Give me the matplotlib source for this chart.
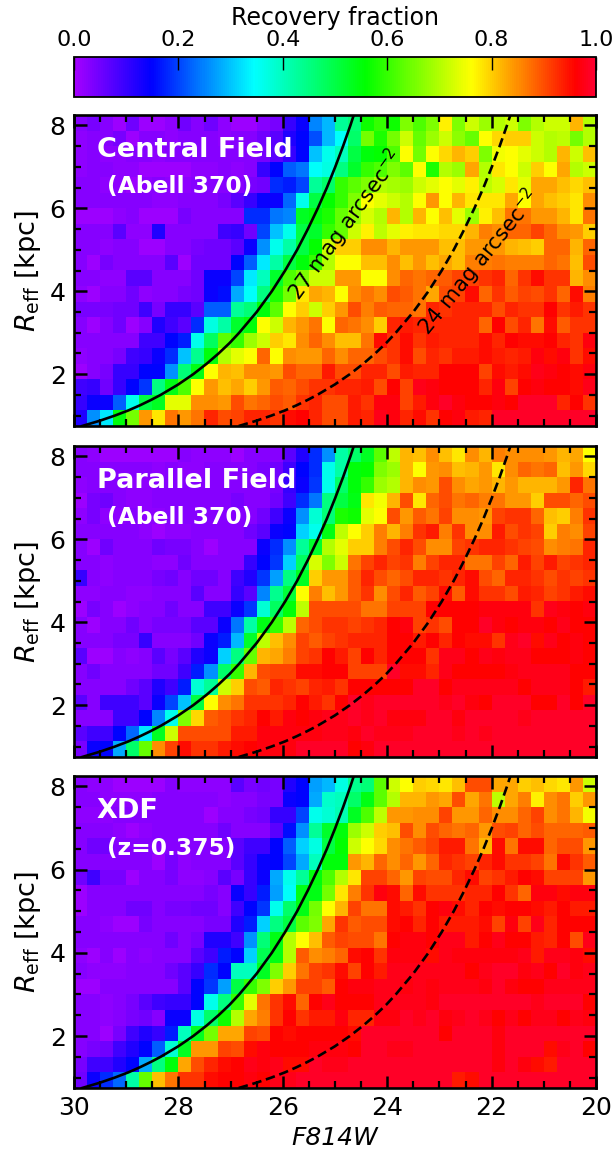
import numpy as np
import matplotlib
matplotlib.use('Agg')
import matplotlib.pyplot as plt
from matplotlib.colors import LinearSegmentedColormap
from matplotlib.ticker import MultipleLocator

# recovery fraction in percent: top row first, F814W 30 -> 20
central_rf = [
    [3,4,3,1,5,1,1,2,5,3,5,2,1,1,3,4,10,14,25,29,43,46,57,60,57,66,62,66,77,66,72,68,70,72,66,70,72,72,82,70],
    [2,3,3,4,1,3,3,2,3,3,3,2,3,3,5,7,12,15,21,29,35,47,65,58,65,72,64,68,72,67,64,76,79,80,80,72,70,71,65,70],
    [2,3,2,2,3,3,2,3,3,3,3,3,3,3,4,7,10,15,30,36,40,50,55,56,62,76,65,76,79,82,80,66,75,76,74,72,70,82,72,81],
    [2,3,3,2,2,1,1,1,1,2,2,3,2,3,10,15,22,24,35,37,45,52,60,62,66,63,76,58,70,68,83,70,78,76,72,80,76,83,70,72],
    [3,3,2,2,1,2,3,2,2,3,3,3,3,4,5,18,17,20,43,47,60,63,66,70,69,68,72,74,76,74,77,71,73,78,74,83,83,81,79,81],
    [3,3,3,3,3,3,2,2,3,3,3,4,7,10,14,14,23,36,50,56,60,66,76,74,72,70,76,84,76,82,78,78,78,83,76,83,81,80,78,85],
    [1,1,1,2,3,1,1,1,4,3,3,3,3,18,18,24,25,53,55,58,64,68,73,70,82,70,82,76,81,74,68,77,81,87,87,84,84,82,78,87],
    [3,3,3,7,2,2,12,3,3,3,3,9,10,5,20,30,36,50,52,60,64,72,77,71,74,77,78,78,79,79,82,86,85,88,88,91,88,85,84,80],
    [3,3,2,3,3,1,1,3,3,4,5,5,7,14,26,36,42,50,56,72,80,80,85,85,82,84,84,84,81,81,84,84,84,82,81,80,88,88,82,88],
    [3,1,4,3,3,3,3,7,1,5,5,5,15,22,33,42,50,55,60,70,76,76,81,81,85,81,84,81,83,81,86,86,87,86,86,86,88,87,81,90],
    [3,3,2,2,7,7,3,3,3,5,14,14,20,33,40,52,62,66,72,72,84,84,76,76,85,88,87,88,89,91,91,92,93,88,92,95,92,92,82,85],
    [2,1,3,3,5,2,3,3,4,5,14,16,28,35,45,58,65,78,83,82,76,85,87,85,90,89,87,83,90,91,95,88,92,89,91,90,92,88,95,86],
    [4,4,4,5,5,9,4,10,10,7,22,22,43,46,55,63,76,80,72,80,84,90,86,89,88,88,87,93,92,93,93,93,90,93,92,92,96,92,94,92],
    [3,1,3,5,1,3,12,9,7,18,37,42,52,55,76,72,82,84,87,76,88,87,85,80,93,94,93,93,93,93,93,88,96,90,93,87,95,89,92,92],
    [3,3,3,3,3,9,9,15,17,36,48,63,60,68,72,80,78,85,88,85,81,81,87,95,92,95,92,94,93,93,93,95,93,96,95,95,96,93,92,97],
    [2,3,3,4,9,10,14,18,30,44,55,70,74,76,88,76,85,84,84,88,85,88,88,90,92,95,90,93,92,94,94,95,94,93,94,97,95,97,92,95],
    [1,3,4,10,10,15,15,26,46,54,76,82,81,85,85,84,90,88,88,94,90,90,93,93,90,94,93,93,96,96,96,91,95,94,95,98,97,96,95,97],
    [9,10,5,10,15,19,45,54,62,76,84,81,83,80,84,89,88,90,92,92,93,93,94,90,96,91,98,97,96,96,96,93,97,91,96,97,96,96,95,98],
    [10,14,14,22,36,50,53,74,74,85,85,84,90,87,88,90,89,92,93,90,90,94,92,97,97,91,94,97,99,97,96,96,97,96,99,99,99,93,96,92],
    [12,26,33,55,65,84,78,87,84,87,93,90,91,93,93,92,95,96,93,90,90,94,93,98,97,93,95,92,96,97,94,93,99,99,99,99,99,99,99,99],
]
parallel_rf = [
    [3,2,1,1,1,1,1,1,3,2,2,2,1,3,3,3,7,12,18,26,42,47,53,63,71,82,81,85,81,78,85,82,86,85,85,85,84,82,83,76],
    [3,3,3,3,3,3,2,3,2,2,3,3,3,3,4,5,9,15,18,36,42,55,56,66,68,82,76,84,85,81,82,84,78,85,88,87,88,81,84,79],
    [2,3,3,3,2,2,3,3,3,3,3,3,3,3,3,4,10,14,19,36,47,55,60,68,70,82,85,84,90,85,83,84,82,84,82,82,82,84,93,87],
    [1,4,5,3,2,2,3,3,3,3,3,3,4,3,3,5,9,18,24,45,50,54,78,75,82,90,78,88,90,87,88,86,87,84,84,80,90,90,88,90],
    [2,4,2,2,3,2,2,3,3,3,3,3,3,3,5,9,14,26,38,46,58,57,74,76,90,84,89,87,91,85,85,84,91,92,92,88,81,80,86,92],
    [3,3,3,3,3,2,1,2,2,3,3,3,3,5,7,14,15,31,36,54,71,76,80,86,82,86,92,94,86,92,85,85,94,90,92,91,80,86,85,91],
    [3,1,5,3,3,3,5,4,4,3,1,3,3,3,14,18,26,43,52,70,74,80,80,86,90,93,90,85,85,91,92,93,93,92,91,90,85,86,87,93],
    [3,3,2,3,3,3,2,2,5,3,3,3,3,10,15,19,31,48,73,66,72,87,91,93,91,92,86,91,93,93,87,87,91,88,94,91,94,91,92,93],
    [10,3,2,3,3,3,4,5,3,5,5,3,9,12,19,27,45,53,80,84,84,89,93,90,88,90,93,93,92,93,95,90,88,93,93,92,90,92,91,92],
    [2,2,3,3,2,2,3,3,3,7,3,3,10,7,25,44,51,76,86,81,84,89,92,85,90,93,89,91,95,89,95,92,92,90,94,93,91,92,94,95],
    [1,4,3,1,2,3,3,5,3,3,9,9,14,19,38,48,55,71,90,90,90,90,87,87,91,91,91,96,96,96,96,97,97,97,97,92,98,97,96,97],
    [3,1,3,3,5,3,4,4,4,7,7,14,24,42,54,60,71,88,90,92,92,91,92,93,96,97,91,92,90,96,96,99,97,96,97,97,96,98,96,96],
    [3,3,3,4,4,10,3,3,3,5,14,17,29,52,71,81,85,91,89,91,92,93,93,93,96,96,94,96,93,96,95,95,92,98,99,95,98,96,97,96],
    [7,1,1,3,2,3,7,4,7,12,14,31,45,64,82,83,86,91,92,96,94,91,96,93,96,96,96,92,98,98,96,98,97,98,98,96,96,96,97,96],
    [3,5,3,3,3,3,5,5,9,17,26,47,60,82,90,91,91,95,95,96,96,91,91,91,99,95,95,93,98,96,96,96,96,97,98,98,98,98,96,96],
    [3,3,3,3,5,7,12,9,17,38,43,72,80,90,89,93,92,91,93,94,92,96,96,96,96,96,99,99,96,98,98,98,98,98,96,98,98,98,96,94],
    [7,3,9,9,9,7,14,20,30,50,76,85,87,92,92,92,93,96,94,92,96,99,98,99,99,99,99,99,98,99,97,96,99,99,99,96,96,99,96,99],
    [3,3,3,9,9,15,25,36,66,79,89,90,92,93,96,94,97,96,97,98,98,99,98,99,97,97,97,99,99,97,99,99,99,99,98,99,99,99,99,99],
    [7,9,9,15,23,33,53,72,90,90,90,90,94,94,97,97,97,97,97,98,98,97,99,98,98,98,99,99,99,98,99,98,99,99,99,99,99,99,99,99],
    [4,14,15,28,47,64,85,91,95,92,92,94,95,96,97,97,97,99,99,99,99,96,97,99,99,99,99,99,99,99,99,99,99,99,99,99,99,99,99,99],
]
xdf_rf = [
    [3,2,2,1,1,1,1,3,2,2,2,2,7,4,5,4,12,15,27,29,37,44,46,63,72,76,80,79,78,81,90,90,83,83,80,81,79,78,84,72],
    [3,3,2,2,2,2,3,3,3,3,3,2,3,3,4,4,14,15,28,39,40,47,54,63,70,82,82,84,83,90,83,87,71,83,86,77,85,87,80,84],
    [2,2,2,3,3,3,3,3,3,3,1,3,3,4,5,10,10,20,36,38,41,53,62,71,84,84,85,85,91,84,84,88,85,85,88,91,85,87,82,75],
    [3,3,3,2,1,2,3,3,3,3,3,5,3,3,3,7,16,26,43,52,55,68,72,80,81,90,85,90,88,87,88,84,90,91,88,90,88,88,88,89],
    [3,5,5,3,3,3,3,3,3,3,3,3,7,9,9,15,22,31,37,50,56,72,76,79,85,87,89,91,94,94,87,82,95,87,95,95,88,90,90,84],
    [3,3,3,3,3,3,1,4,2,3,3,3,7,10,14,15,20,28,40,55,55,84,82,88,85,88,84,88,93,92,91,93,95,92,92,91,87,95,92,89],
    [5,9,4,4,1,3,3,4,2,2,3,7,4,10,14,28,36,43,55,62,70,78,91,91,88,84,91,90,90,93,95,91,92,94,96,95,91,91,91,84],
    [1,3,3,3,3,3,3,3,3,3,4,3,14,10,17,27,35,54,54,65,78,86,92,97,95,88,95,92,92,92,93,93,96,92,88,97,97,95,97,97],
    [1,3,3,3,5,5,3,4,4,5,5,3,9,15,19,36,47,54,65,76,82,91,87,87,95,94,92,96,97,95,93,96,95,96,96,95,94,96,94,94],
    [3,3,2,1,1,4,3,3,3,3,4,4,12,17,31,45,50,63,66,83,92,89,90,90,95,96,93,96,94,94,94,95,91,97,91,98,93,96,96,96],
    [3,3,3,3,3,3,3,5,3,4,12,12,9,26,46,54,70,76,81,89,91,90,90,87,96,97,97,96,98,98,94,96,98,96,96,94,93,96,90,98],
    [2,1,3,1,3,2,3,3,3,7,9,17,15,31,49,54,70,89,85,86,88,95,96,92,97,97,97,95,98,97,97,97,97,97,98,94,98,98,97,95],
    [3,2,2,2,3,3,3,5,7,10,18,15,40,40,53,66,80,87,91,92,95,91,96,94,98,98,98,98,98,98,96,98,99,99,97,98,96,99,97,98],
    [1,1,3,3,3,3,3,3,7,15,19,27,50,60,66,80,84,91,91,89,96,97,97,98,98,97,98,97,98,98,98,97,99,97,96,96,98,98,98,98],
    [3,3,2,3,4,7,9,10,10,15,36,45,60,74,87,92,95,88,96,98,96,96,96,98,98,98,98,97,99,99,99,99,99,99,99,98,99,99,99,96],
    [3,3,2,3,4,5,3,14,14,37,47,57,70,83,86,92,96,92,94,94,97,93,93,97,97,99,98,99,97,98,99,98,96,98,96,98,98,96,98,97],
    [3,3,1,4,9,12,10,17,40,53,65,83,83,91,90,96,95,96,96,96,96,95,99,99,99,99,99,99,96,99,99,99,97,99,99,99,99,99,99,99],
    [3,4,5,9,12,15,22,38,53,84,84,91,90,95,97,96,96,96,97,97,97,96,99,99,98,98,99,99,99,99,99,99,97,99,99,99,95,98,99,96],
    [4,9,9,12,15,28,45,55,83,90,93,95,96,98,97,98,95,95,99,98,98,99,99,99,99,99,99,99,99,99,99,99,97,99,97,95,94,99,99,99],
    [5,14,18,23,42,64,81,87,92,92,95,96,96,97,96,98,98,99,99,99,99,99,99,99,99,99,99,99,99,94,95,99,99,99,99,99,99,99,99,99],
]

# constant surface brightness lines
reff_curve = [0.75, 0.875, 1, 1.125, 1.25, 1.375, 1.5, 1.75, 2, 2.25, 2.5, 2.75, 3, 3.5, 4, 4.5, 5, 5.5, 6, 6.5, 7, 7.5, 8, 8.25]
mag_27 = [29.845, 29.51, 29.22, 28.96, 28.735, 28.53, 28.34, 28.005, 27.715, 27.46, 27.23, 27.02, 26.835, 26.5, 26.21, 25.955, 25.725, 25.52, 25.33, 25.155, 24.995, 24.845, 24.705, 24.64]
mag_24 = [26.845, 26.51, 26.22, 25.96, 25.735, 25.53, 25.34, 25.005, 24.715, 24.46, 24.23, 24.02, 23.835, 23.5, 23.21, 22.955, 22.725, 22.52, 22.33, 22.155, 21.995, 21.845, 21.705, 21.64]

panel_names = ['Central Field', 'Parallel Field', 'XDF']
panel_subs = ['(Abell 370)', '(Abell 370)', '(z=0.375)']
panel_data = [central_rf, parallel_rf, xdf_rf]
cbar_ticks = [0.0, 0.2, 0.4, 0.6, 0.8, 1.0]

cmap = LinearSegmentedColormap.from_list('recovery', [
    (0.0, '#a500ff'), (0.147, '#0000ff'), (0.345, '#00ffff'), (0.558, '#00ff00'),
    (0.762, '#ffff00'), (0.962, '#ff0000'), (1.0, '#ff0032')])

W, H = 616.0, 1154.0
def px_axes(x0, y0, x1, y1):
    return fig.add_axes([x0 / W, 1 - y1 / H, (x1 - x0) / W, (y1 - y0) / H])

fig = plt.figure(figsize=(6.16, 11.54), dpi=100)
boxes = [(74, 115, 596, 426), (74, 446, 596, 757), (74, 776, 596, 1088)]

for i, box in enumerate(boxes):
    ax = px_axes(*box)
    im = ax.imshow(np.array(panel_data[i]) / 100.0, extent=[30, 20, 0.75, 8.25], cmap=cmap,
                   vmin=0, vmax=1, aspect='auto', interpolation='nearest')
    ax.plot(mag_27, reff_curve, color='k', lw=1.9)
    ax.plot(mag_24, reff_curve, color='k', lw=1.9, ls=(0, (3.6, 1.8)))
    ax.set_xlim(30, 20)
    ax.set_ylim(0.75, 8.25)
    ax.xaxis.set_major_locator(MultipleLocator(2))
    ax.xaxis.set_minor_locator(MultipleLocator(0.5))
    ax.yaxis.set_major_locator(MultipleLocator(2))
    ax.yaxis.set_minor_locator(MultipleLocator(0.5))
    ax.tick_params(which='major', direction='in', top=True, right=True, length=9, width=1.8, labelsize=18, pad=6)
    ax.tick_params(which='minor', direction='in', top=True, right=True, length=5, width=1.6)
    for s in ax.spines.values():
        s.set_linewidth(1.9)
    ax.set_ylabel(r'$R_{\rm eff}$ [kpc]', fontsize=19.5, labelpad=5)
    if i < 2:
        ax.set_xticklabels([])
    else:
        ax.set_xlabel('F814W', fontsize=18, style='italic', labelpad=4)
    ax.text(0.044, 0.889, panel_names[i], transform=ax.transAxes, color='white', fontsize=19.5,
            fontweight='bold', ha='left', va='center')
    ax.text(0.063, 0.769, panel_subs[i], transform=ax.transAxes, color='white', fontsize=16.8,
            fontweight='bold', ha='left', va='center')
    if i == 0:
        ax.text(24.8, 5.6, r'27 mag arcsec$^{-2}$', rotation=54, fontsize=15.2, ha='center', va='center')
        ax.text(22.24, 4.7, r'24 mag arcsec$^{-2}$', rotation=51, fontsize=15.2, ha='center', va='center')

cax = px_axes(74, 57, 596, 97)
cb = fig.colorbar(im, cax=cax, orientation='horizontal', ticks=cbar_ticks)
cax.xaxis.set_ticks_position('top')
cax.xaxis.set_label_position('top')
cax.tick_params(direction='in', length=9, width=1.0, labelsize=16, pad=5)
cb.outline.set_linewidth(1.3)
cb.set_label('Recovery fraction', fontsize=17, labelpad=4)

fig.savefig('out.png', dpi=100)
